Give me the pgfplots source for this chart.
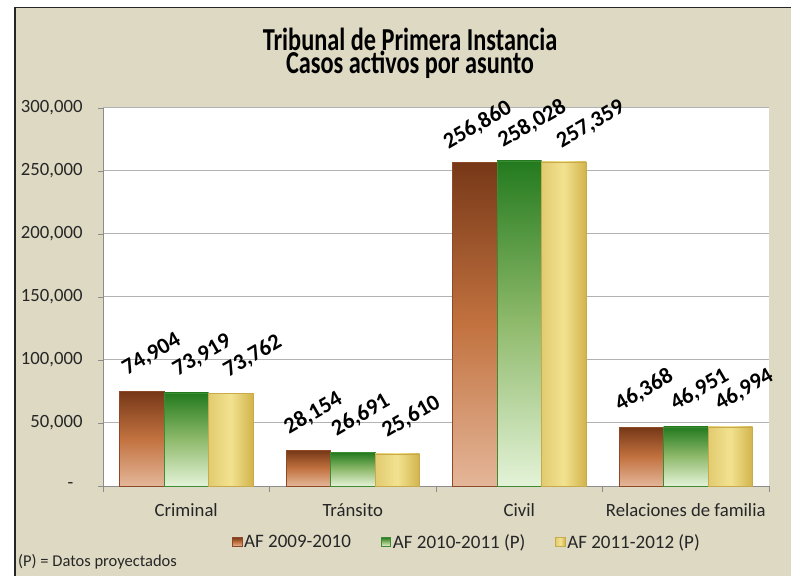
\documentclass[border=0pt]{standalone}
\usepackage{pgfplots}
\pgfplotsset{compat=1.18}
\usepackage{fontspec}
\setmainfont{Carlito}
\newfontfamily\titlefont{Carlito}[FakeStretch=0.76]
\definecolor{beige}{HTML}{DDD9C3}
\definecolor{brT}{HTML}{773818}
\definecolor{brM}{HTML}{C2723F}
\definecolor{brB}{HTML}{E4B699}
\definecolor{brD}{HTML}{8E4A28}
\definecolor{grT}{HTML}{237A1E}
\definecolor{grM}{HTML}{8FBA6C}
\definecolor{grB}{HTML}{E4F3D8}
\definecolor{grD}{HTML}{3E8A35}
\definecolor{ylL}{HTML}{E2CB70}
\definecolor{ylM}{HTML}{F2E290}
\definecolor{ylR}{HTML}{D2B44C}
\definecolor{ylD}{HTML}{C8AA4A}
\newcommand\tickfont{\fontsize{18.7}{20}\selectfont}
\pgfplotsset{
  vlab/.style={
    nodes near coords={\pgfmathprintnumber[assume math mode=true,fixed,precision=0,1000 sep={,}]{\pgfplotspointmeta}},
    every node near coord/.append style={xshift=#1, yshift=37pt, rotate=30, anchor=center, text=black,
      font=\bfseries\fontsize{22.5}{22.5}\selectfont}
  },
  sA/.style={draw=brD, line width=0.4pt, top color=brT, bottom color=brB, middle color=brM, bar shift=-44.5pt},
  sB/.style={draw=grD, line width=0.4pt, top color=grT, bottom color=grB, middle color=grM, bar shift=0pt},
  sC/.style={draw=ylD, line width=0.4pt, left color=ylL, right color=ylR, middle color=ylM, bar shift=44.5pt},
}
\begin{document}
\begin{tikzpicture}
\useasboundingbox (0,0) rectangle (791pt,575pt);
\fill[beige] (15pt,-5pt) rectangle (800pt,567.5pt);
\draw[black!85, line width=1.6pt] (15pt,-5pt) -- (15pt,567.5pt) -- (800pt,567.5pt);
\begin{axis}[
  at={(103pt,89pt)}, anchor=south west,
  scale only axis, width=666pt, height=378pt,
  axis background/.style={fill=white},
  clip=false,
  ybar=0pt, bar width=44.5pt,
  xmin=-0.5, xmax=3.5, ymin=0, ymax=300000,
  axis lines*=left,
  axis line style={draw=black!45, line width=0.8pt},
  ymajorgrids, grid style={draw=black!30, line width=1pt},
  scaled y ticks=false,
  ytick={0,50000,100000,150000,200000,250000,300000},
  yticklabels={{-\hspace*{9pt}}, {50,000}, {100,000}, {150,000}, {200,000}, {250,000}, {300,000}},
  tick align=outside, major tick length=5pt,
  tick style={draw=black!45, line width=0.8pt},
  yticklabel style={font=\tickfont, text=black!85, xshift=-12pt},
  xtick={0,1,2,3},
  xticklabels={Criminal, Tránsito, Civil, Relaciones de familia},
  xticklabel style={font=\tickfont, text=black!85, yshift=-9pt},
  xtick style={draw=none},
  extra x ticks={-0.5,0.5,1.5,2.5,3.5},
  extra x tick labels={},
  extra x tick style={grid=none, major tick length=6pt, xtick style={draw=black!45, line width=0.8pt}},
  legend columns=3,
  legend style={at={(0.1937,-0.148)}, anchor=west, draw=none, fill=none,
    font=\fontsize{19}{20}\selectfont, text=black!85, inner sep=0pt,
    /tikz/every even column/.append style={column sep=28pt}},
  legend image code/.code={\fill[#1] (0pt,-4.5pt) rectangle (9.5pt,4.5pt);},
]
% Criminal
\addplot[sA, vlab=10pt] coordinates {(0,74904)};
\addplot[sB, vlab=16pt] coordinates {(0,73919)};
\addplot[sC, vlab=22pt] coordinates {(0,73762)};
% Transito
\addplot[sA, vlab=5pt, forget plot] coordinates {(1,28154)};
\addplot[sB, vlab=8pt, forget plot] coordinates {(1,26691)};
\addplot[sC, vlab=14pt, forget plot] coordinates {(1,25610)};
% Civil
\addplot[sA, vlab=3pt, forget plot] coordinates {(2,256860)};
\addplot[sB, vlab=13pt, forget plot] coordinates {(2,258028)};
\addplot[sC, vlab=27pt, forget plot] coordinates {(2,257359)};
% Relaciones de familia
\addplot[sA, vlab=3pt, forget plot] coordinates {(3,46368)};
\addplot[sB, vlab=14pt, forget plot] coordinates {(3,46951)};
\addplot[sC, vlab=14pt, forget plot] coordinates {(3,46994)};
\legend{AF 2009-2010, AF 2010-2011 (P), AF 2011-2012 (P)}
\end{axis}
\node[font=\titlefont\bfseries\fontsize{32}{34}\selectfont] at (410pt,536pt) {Tribunal de Primera Instancia};
\node[font=\titlefont\bfseries\fontsize{32}{34}\selectfont] at (410pt,510pt) {Casos activos por asunto};
\node[anchor=west, font=\fontsize{16.5}{18}\selectfont, text=black!85, inner sep=0pt] at (18pt,13pt) {(P) = Datos proyectados};
\end{tikzpicture}
\end{document}
